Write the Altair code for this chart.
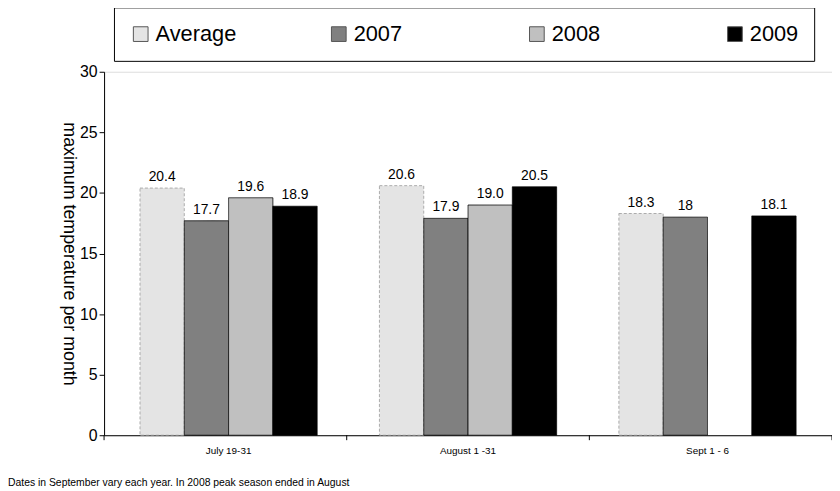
import altair as alt
import pandas as pd

periods = ["July 19-31", "August 1 -31", "Sept 1 - 6"]
series = ["Average", "2007", "2008", "2009"]
average = [20.4, 20.6, 18.3]
y2007 = [17.7, 17.9, 18.0]
y2008 = [19.6, 19.0, None]
y2009 = [18.9, 20.5, 18.1]
labels = {
    "Average": ["20.4", "20.6", "18.3"],
    "2007": ["17.7", "17.9", "18"],
    "2008": ["19.6", "19.0", ""],
    "2009": ["18.9", "20.5", "18.1"],
}
note_text = "Dates in September vary each year.  In 2008 peak season ended in August"

rows = []
for name, vals in zip(series, [average, y2007, y2008, y2009]):
    for i, p in enumerate(periods):
        if vals[i] is not None:
            rows.append({"Period": p, "Series": name, "Value": vals[i], "Label": labels[name][i]})
df = pd.DataFrame(rows)

W, H = 735, 367
font = "Liberation Sans"

color = alt.Color(
    "Series:N",
    scale=alt.Scale(domain=series, range=["#e4e4e4", "#808080", "#c0c0c0", "#000000"]),
    legend=alt.Legend(
        title=None, orient="none", legendX=10, legendY=-65, direction="horizontal",
        columns=4, gridAlign="all", columnPadding=92, symbolType="square", symbolSize=220,
        symbolStrokeColor="#555", symbolStrokeWidth=1, labelFontSize=22, labelFont=font,
        labelColor="black", strokeColor="black", fillColor="white", padding=16,
    ),
)

x = alt.X(
    "Period:N", sort=periods, title=None,
    scale=alt.Scale(paddingInner=0.26, paddingOuter=0.15),
    axis=alt.Axis(labelAngle=0, labelFontSize=10, labelFont=font, labelColor="black",
                  domainColor="black", ticks=False, labelPadding=10),
)
xo = alt.XOffset("Series:N", sort=series, scale=alt.Scale(domain=series, paddingInner=0, paddingOuter=0))

base = alt.Chart(df).encode(x=x, xOffset=xo)

bars = base.mark_bar(stroke="black", strokeWidth=0.8).encode(
    y=alt.Y("Value:Q", scale=alt.Scale(domain=[0, 30]),
            title="maximum temperature per month",
            axis=alt.Axis(values=[0, 5, 10, 15, 20, 25, 30], grid=False, labelFontSize=16,
                          labelFont=font, labelColor="black", domainColor="black",
                          tickColor="black", titleFontSize=18, titleFont=font,
                          titleFontWeight="normal", titleColor="black", titleAngle=90,
                          titleX=-36, titleY=H / 2, titleAlign="center",
                          titleBaseline="middle")),
    color=color,
    stroke=alt.condition(alt.datum.Series == "Average", alt.value("#999999"), alt.value("black")),
    strokeDash=alt.condition(alt.datum.Series == "Average", alt.value([3, 2]), alt.value([1, 0])),
)

text = base.mark_text(dy=-11, fontSize=14, font=font, color="black").encode(
    y="Value:Q", text="Label:N"
)

ticks = alt.Chart(pd.DataFrame({"k": [0, 1, 2, 3]})).mark_rule(color="black").encode(
    x=alt.X("px:Q", scale=None), y=alt.value(H), y2=alt.value(H + 5)
).transform_calculate(px=f"datum.k * {W / 3}")

note = alt.Chart(pd.DataFrame({"t": [note_text]})).mark_text(
    align="left", fontSize=10.5, font=font, color="black"
).encode(x=alt.value(-97), y=alt.value(H + 48), text="t:N")

chart = (bars + text + ticks + note).properties(
    width=W, height=H, padding={"left": 97, "top": 62, "right": 0, "bottom": 60}
).configure_view(stroke=None).configure_axis(grid=False).configure(
    autosize=alt.AutoSizeParams(type="none"))

chart.save("out.html", embed_options={"renderer": "svg", "actions": False})
